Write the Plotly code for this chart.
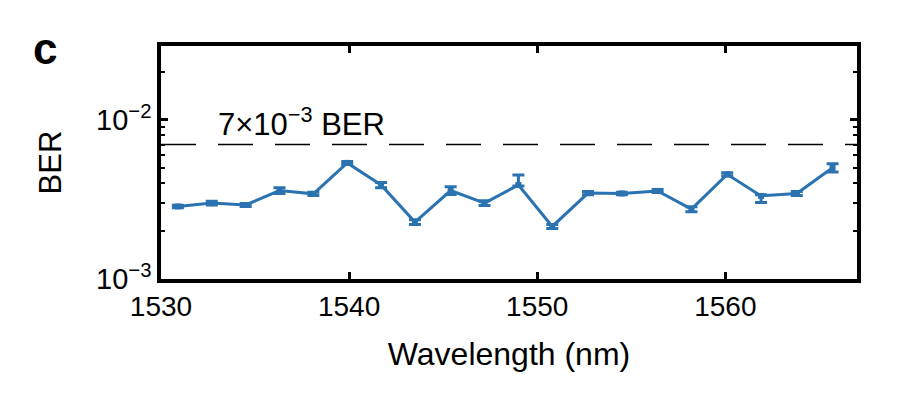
import math
import plotly.graph_objects as go

wavelength = [1530.9, 1532.7, 1534.5, 1536.3, 1538.1, 1539.9, 1541.7, 1543.5, 1545.4, 1547.2,
              1549.0, 1550.8, 1552.7, 1554.5, 1556.4, 1558.2, 1560.1, 1561.9, 1563.8, 1565.7]
ber = [2.86e-3, 3.0e-3, 2.92e-3, 3.6e-3, 3.43e-3, 5.37e-3, 3.9e-3, 2.28e-3, 3.6e-3, 3.0e-3,
       3.9e-3, 2.14e-3, 3.47e-3, 3.45e-3, 3.58e-3, 2.75e-3, 4.55e-3, 3.33e-3, 3.45e-3, 5.0e-3]
err_plus = [0.05e-3, 0.08e-3, 0.06e-3, 0.15e-3, 0.08e-3, 0.12e-3, 0.15e-3, 0.08e-3, 0.2e-3, 0.1e-3,
            0.6e-3, 0.06e-3, 0.08e-3, 0.06e-3, 0.08e-3, 0.1e-3, 0.1e-3, 0.06e-3, 0.1e-3, 0.3e-3]
err_minus = [0.05e-3, 0.08e-3, 0.06e-3, 0.15e-3, 0.08e-3, 0.12e-3, 0.15e-3, 0.08e-3, 0.2e-3, 0.1e-3,
             0.05e-3, 0.06e-3, 0.08e-3, 0.06e-3, 0.08e-3, 0.1e-3, 0.1e-3, 0.3e-3, 0.1e-3, 0.3e-3]
threshold = 7e-3
x_ticks = [1530, 1540, 1550, 1560]
y_ticks = [1e-3, 1e-2]
y_ticktext = ["10<sup>\u22123</sup>", "10<sup>\u22122</sup>"]
y_minor = [2e-3, 3e-3, 4e-3, 5e-3, 6e-3, 7e-3, 8e-3, 9e-3, 2e-2]

color = "#2b73b0"
font = "Liberation Sans, Arial, sans-serif"

fig = go.Figure()
fig.add_trace(go.Scatter(
    x=wavelength, y=ber, mode="lines+markers",
    line=dict(color=color, width=3),
    marker=dict(color=color, size=6, symbol="square"),
    error_y=dict(type="data", symmetric=False, array=err_plus, arrayminus=err_minus,
                 color=color, thickness=3, width=6),
    showlegend=False,
))
fig.add_shape(type="line", xref="paper", x0=0, x1=1, yref="y", y0=threshold, y1=threshold,
              line=dict(color="black", width=1.5, dash="35px,22px"))
fig.add_annotation(x=1532.95, y=math.log10(threshold) + 0.145, xref="x", yref="y",
                   text="7\u00d710<sup>\u22123</sup> BER", showarrow=False,
                   xanchor="left", yanchor="middle",
                   font=dict(size=31, color="black", family=font))
fig.add_annotation(x=-0.167, y=0.99, xref="paper", yref="paper", text="<b>c</b>",
                   showarrow=False, xanchor="center", yanchor="middle",
                   font=dict(size=44, color="black", family=font))

fig.update_xaxes(range=[1530, 1567], tickvals=x_ticks, ticks="inside", ticklen=7, tickwidth=2.5,
                 tickcolor="black", showline=True, linecolor="black", linewidth=3.5, mirror="ticks",
                 showgrid=False, zeroline=False,
                 tickfont=dict(size=28, family=font, color="black"),
                 title=dict(text="Wavelength (nm)", font=dict(size=32, family=font, color="black"),
                            standoff=22))
fig.update_yaxes(type="log", range=[-3, -1.535], tickvals=y_ticks, ticktext=y_ticktext,
                 ticks="inside", ticklen=7, tickwidth=2.5, tickcolor="black",
                 minor=dict(tickvals=y_minor, ticks="inside", ticklen=4, tickwidth=2, tickcolor="black"),
                 showline=True, linecolor="black", linewidth=3.5, mirror="ticks",
                 showgrid=False, zeroline=False,
                 tickfont=dict(size=29, family=font, color="black"),
                 title=dict(text="BER", font=dict(size=31, family=font, color="black"), standoff=26))
fig.update_layout(width=893, height=390, margin=dict(l=153, r=44, t=38, b=119),
                  paper_bgcolor="white", plot_bgcolor="white",
                  font=dict(family=font, color="black"))
fig.write_html("out.html")
